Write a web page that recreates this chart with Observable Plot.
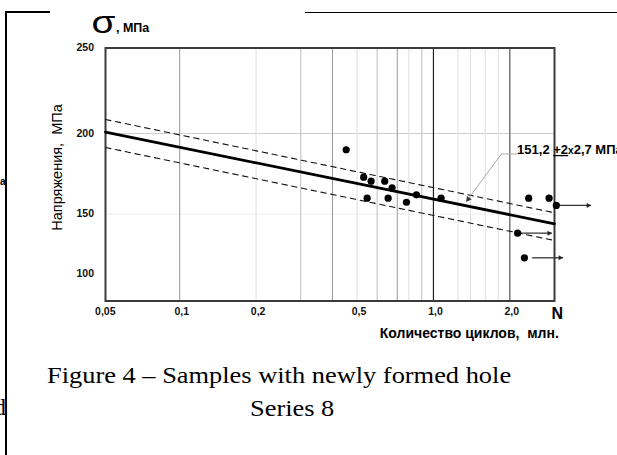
<!DOCTYPE html>
<html><head><meta charset="utf-8">
<script src="https://cdn.jsdelivr.net/npm/d3@7"></script>
<script src="https://cdn.jsdelivr.net/npm/@observablehq/plot@0.6"></script>
<style>
html,body{margin:0;padding:0;background:#fff;}
#page{position:relative;width:617px;height:455px;overflow:hidden;background:#fff;font-family:"Liberation Sans",Arial,sans-serif;}
#chart{position:absolute;left:0;top:0;}
.cap{position:absolute;font-family:"Liberation Serif","Times New Roman",serif;font-size:24px;line-height:24px;white-space:nowrap;transform-origin:0 0;transform:scaleX(1.1);color:#000;}
.rule{position:absolute;background:#000;}
.frag{position:absolute;white-space:nowrap;color:#000;}
</style></head><body>
<div id="page">
  <div id="chart"></div>
  <div class="rule" style="left:5px;top:11px;width:2.3px;height:444px;"></div>
  <div class="rule" style="left:7px;top:11px;width:43px;height:2px;"></div>
  <div class="rule" style="left:305px;top:12px;width:312px;height:1.3px;"></div>
  <div class="frag" style="left:0px;top:176px;font-size:10px;font-weight:bold;">a</div>
  <div class="frag" style="left:-6px;top:395px;font-size:24px;line-height:24px;font-family:'Liberation Serif',serif;">d</div>
  <div class="cap" id="cap1" style="left:47px;top:363px;"></div>
  <div class="cap" id="cap2" style="left:250px;top:396px;"></div>
</div>
<script>
// ---- data ----
const xTicks = [0.05, 0.1, 0.2, 0.5, 1, 2];
const xTickLabels = ["0,05", "0,1", "0,2", "0,5", "1,0", "2,0"];
const yTicks = [100, 150, 200, 250];

const gridDecade = [1];
const gridMajor = [2];
const gridMid = [0.1, 0.4, 0.72];
const gridLight = [0.3, 0.6, 0.9];
const gridFaint = [0.2, 0.5, 0.8, 1.25, 1.4, 1.6, 1.8];
const hGrid = [200];
const hGridFaint = [150];

// failed samples: cycles (mln) and stress (MPa)
const cycles = [0.453, 0.531, 0.568, 0.643, 0.687, 0.857, 1.072, 0.548, 0.663, 0.783, 2.374, 2.856];
const stress = [189.9, 172.9, 170.4, 170.4, 166.3, 161.9, 159.8, 159.8, 159.8, 157.3, 159.8, 159.8];

// run-outs (not failed) with arrows
const runoutCycles = [3.05, 2.147, 2.283];
const runoutStress = [155.3, 134.0, 113.5];
const runoutArrowStart = [3.05, 2.147, 2.45];
const runoutArrowEnd = [4.18, 2.93, 3.24];

// fatigue curve and ±2S band
const fitN = [0.051, 3.0];
const fitMean = [200.8, 141.8];
const fitUpper = [208.2, 150.75];
const fitLower = [191.3, 127.9];

// annotation
const annoParts = ["151,2 ", "+2", "x", "2,7 МПа"];
const annoText = annoParts.join("");
const leaderN = [2.137, 1.853, 1.349];
const leaderS = [187.3, 187.3, 157.8];

const yLabel = "Напряжения,  МПа";
const xLabel = "Количество циклов,  млн.";
const sigmaSymbol = "σ";
const sigmaUnit = ", МПа";
const nLabel = "N";
const caption1 = "Figure 4 – Samples with newly formed hole";
const caption2 = "Series 8";

// ---- chart ----
const idx = (a) => a.map((_, i) => i);
const font = "Liberation Sans, Arial, sans-serif";

const chart = Plot.plot({
  width: 617,
  height: 455,
  marginLeft: 105,
  marginRight: 63,
  marginTop: 47.5,
  marginBottom: 154.5,
  style: {fontFamily: font, background: "transparent", color: "#000", overflow: "visible"},
  x: {type: "log", domain: [0.051, 3.0], range: [105, 554]},
  y: {type: "linear", domain: [77.5, 100, 150, 200, 250], range: [300.5, 273.5, 213.5, 133, 47.5]},
  marks: [
    Plot.ruleY(hGridFaint, {stroke: "#eeeeee", strokeWidth: 1}),
    Plot.ruleY(hGrid, {stroke: "#cfcfcf", strokeWidth: 1}),
    Plot.ruleX(gridFaint, {stroke: "#dedede", strokeWidth: 1}),
    Plot.ruleX(gridLight, {stroke: "#bdbdbd", strokeWidth: 1}),
    Plot.ruleX(gridMid, {stroke: "#979797", strokeWidth: 1}),
    Plot.ruleX(gridMajor, {stroke: "#555", strokeWidth: 1.2}),
    Plot.ruleX(gridDecade, {stroke: "#222", strokeWidth: 1.2}),
    Plot.frame({stroke: "#3a3a3a", strokeWidth: 2}),
    Plot.line(idx(fitN), {x: i => fitN[i], y: i => fitUpper[i], stroke: "#111", strokeWidth: 1.1, strokeDasharray: "5.5,4.5"}),
    Plot.line(idx(fitN), {x: i => fitN[i], y: i => fitLower[i], stroke: "#111", strokeWidth: 1.1, strokeDasharray: "5.5,4.5"}),
    Plot.line(idx(fitN), {x: i => fitN[i], y: i => fitMean[i], stroke: "#000", strokeWidth: 2.7}),
    Plot.line(idx(leaderN), {x: i => leaderN[i], y: i => leaderS[i], stroke: "#a8a8a8", strokeWidth: 1}),
    Plot.dot([2], {x: i => leaderN[i], y: i => leaderS[i], symbol: "triangle", rotate: 216.7, r: 2.2, fill: "#333", stroke: null, dx: 1.8, dy: -2.4}),
    Plot.link(idx(runoutCycles), {x1: i => runoutArrowStart[i], x2: i => runoutArrowEnd[i], y1: i => runoutStress[i], y2: i => runoutStress[i], stroke: "#333", strokeWidth: 1.3}),
    Plot.dot(idx(runoutCycles), {x: i => runoutArrowEnd[i], y: i => runoutStress[i], symbol: "triangle", rotate: 90, r: 1.9, fill: "#222", stroke: null, dx: -2.9}),
    Plot.dot(idx(cycles), {x: i => cycles[i], y: i => stress[i], r: 3.6, fill: "#000", stroke: null}),
    Plot.dot(idx(runoutCycles), {x: i => runoutCycles[i], y: i => runoutStress[i], r: 3.6, fill: "#000", stroke: null}),
    Plot.text([annoText], {x: () => leaderN[0], y: () => leaderS[0], text: d => d, textAnchor: "start", lineAnchor: "bottom", fontWeight: "bold", fontSize: 13, fill: "#000"}),
    Plot.axisX({ticks: xTicks, tickSize: 0, tickPadding: 7, dx: 2, tickFormat: d => xTickLabels[xTicks.indexOf(d)], fontWeight: "bold", fontSize: 10.5, label: null, fill: "#111"}),
    Plot.axisY({ticks: yTicks, tickSize: 0, tickPadding: 11.5, tickFormat: d => String(d), fontWeight: "bold", fontSize: 10.5, label: null, fill: "#111"}),
    Plot.text([sigmaSymbol], {frameAnchor: "top-left", dx: -14, dy: -15.5, textAnchor: "start", lineAnchor: "bottom", fontSize: 31, fill: "#000"}),
    Plot.text([sigmaUnit], {frameAnchor: "top-left", dx: 10.5, dy: -16, textAnchor: "start", lineAnchor: "bottom", fontSize: 12.5, fontWeight: "bold", fill: "#000"}),
    Plot.text([yLabel], {frameAnchor: "left", dx: -48.3, dy: -7, rotate: -90, textAnchor: "middle", lineAnchor: "middle", fontSize: 14.5, fill: "#000"}),
    Plot.text([xLabel], {frameAnchor: "bottom-right", dx: 4.3, dy: 37, textAnchor: "end", lineAnchor: "bottom", fontSize: 14, fontWeight: "bold", fill: "#000"}),
    Plot.text([nLabel], {frameAnchor: "bottom-right", dx: 2.7, dy: 17.8, textAnchor: "middle", lineAnchor: "bottom", fontSize: 16, fontWeight: "bold", fill: "#000"})
  ]
});

document.getElementById("chart").appendChild(chart);

// annotation: underlined "+2" and smaller "x"
d3.select(chart).selectAll("text").filter(function() { return this.textContent === annoText; }).each(function() {
  const t = d3.select(this);
  t.text(null);
  t.append("tspan").text(annoParts[0]);
  t.append("tspan").attr("text-decoration", "underline").text(annoParts[1]);
  t.append("tspan").attr("font-size", 10).text(annoParts[2]);
  t.append("tspan").text(annoParts[3]);
});
// widen the sigma glyph like the reference
d3.select(chart).selectAll("text").filter(function() { return this.textContent === sigmaSymbol; }).each(function() {
  const tr = this.getAttribute("transform") || "";
  this.setAttribute("transform", tr + " scale(1.25,1)");
});

document.getElementById("cap1").textContent = caption1;
document.getElementById("cap2").textContent = caption2;
</script>
</body></html>
